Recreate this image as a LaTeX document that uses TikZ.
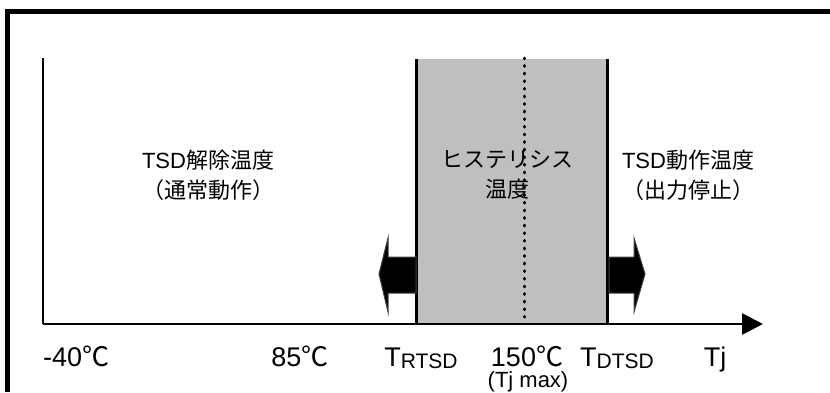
\documentclass[tikz,border=0pt]{standalone}
\usepackage{fontspec}
\setmainfont{Liberation Sans}
\newfontfamily\jp{Noto Sans CJK JP}
\usetikzlibrary{arrows.meta}
\tikzset{
  jptext/.style={font=\fontsize{22}{30}\selectfont, align=center, inner sep=0pt},
  axlabel/.style={font=\fontsize{27}{30}\selectfont, anchor=base, inner sep=0pt},
  sublabel/.style={font=\fontsize{22}{24}\selectfont, anchor=base, inner sep=0pt},
  bigarrow/.style={fill=black, draw=black!75, line width=1pt, line join=miter},
  bound/.style={line width=3pt},
  axisline/.style={line width=2.5pt},
}
\newcommand\degc{{\jp ℃}}
\newcommand\tsub[1]{T\raisebox{-2pt}{\fontsize{21}{22}\selectfont #1}}
\begin{document}
\begin{tikzpicture}[x=1pt,y=-1pt]
\useasboundingbox (0,0) rectangle (830,392);
\fill[white] (0,0) rectangle (830,392);
% outer frame (right and bottom sides lie outside the picture)
\fill[black] (5,9) rectangle (830,14);
\fill[black] (5,9) rectangle (10,392);
% hysteresis band
\fill[black!25] (416,59) rectangle (607.5,324);
\draw[bound] (416,59) -- (416,324);
\draw[bound] (607.5,59) -- (607.5,324);
\draw[line width=3pt, line cap=round, dash pattern=on 0.8pt off 6.8pt] (524,58) -- (524,320);
% axes
\coordinate (o) at (43,324);
\coordinate (ytop) at (43,58);
\coordinate (xend) at (763,324);
\draw[line width=1.5pt] (ytop) -- (o);
\draw[axisline, -{Triangle[length=21pt,width=21pt]}] (o) -- (xend);
% big arrows
\draw[bigarrow] (416,257) -- (388,257) -- (388,238) -- (379,274) -- (388,312) -- (388,293) -- (416,293) -- cycle;
\draw[bigarrow] (609,257) -- (634,257) -- (634,238) -- (645,274) -- (634,312) -- (634,293) -- (609,293) -- cycle;
% region texts
\node[jptext] (release) at (208,175) {TSD{\jp 解除温度}\\{\jp （通常動作）}};
\node[jptext] (hyst) at (507,175) {{\jp ヒステリシス}\\{\jp 温度}};
\node[jptext] (operate) at (688,175) {TSD{\jp 動作温度}\\{\jp （出力停止）}};
% axis labels
\node[axlabel, anchor=base west] (m40) at (43,366) {-40\degc};
\node[axlabel] (t85) at (300,366) {85\degc};
\node[axlabel] (trtsd) at (421,366) {\tsub{RTSD}};
\node[axlabel] (t150) at (527,366) {150\degc};
\node[sublabel] (tjmax) at (528,387) {(Tj max)};
\node[axlabel] (tdtsd) at (617,366) {\tsub{DTSD}};
\node[axlabel] (tj) at (715,366) {Tj};
\end{tikzpicture}
\end{document}
